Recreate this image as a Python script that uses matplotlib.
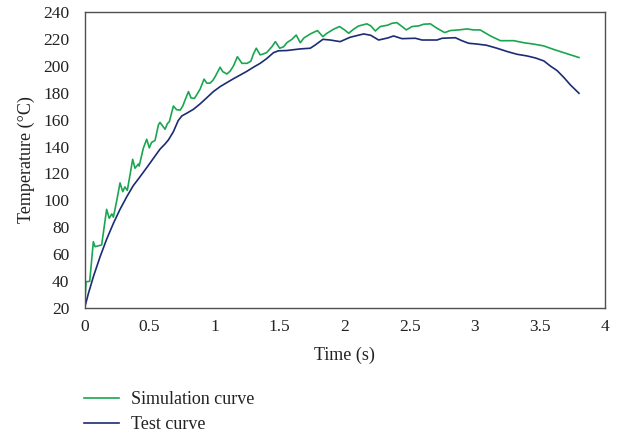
import matplotlib
matplotlib.use("Agg")
import matplotlib.pyplot as plt

# Simulation curve (time s, temperature °C)
sim_t = [0.0, 0.012, 0.04, 0.068, 0.081, 0.132, 0.17, 0.19, 0.21, 0.222, 0.248, 0.273, 0.294,
         0.31, 0.329, 0.35, 0.37, 0.388, 0.414, 0.42, 0.452, 0.478, 0.498, 0.515, 0.542, 0.568,
         0.58, 0.619, 0.637, 0.652, 0.683, 0.708, 0.735, 0.755, 0.773, 0.799, 0.819, 0.845,
         0.86, 0.888, 0.919, 0.94, 0.965, 0.986, 1.004, 1.042, 1.063, 1.094, 1.12, 1.145, 1.175,
         1.21, 1.25, 1.278, 1.30, 1.32, 1.35, 1.37, 1.40, 1.44, 1.467, 1.50, 1.53, 1.555, 1.594,
         1.627, 1.658, 1.686, 1.735, 1.79, 1.832, 1.86, 1.914, 1.96, 2.0, 2.03, 2.068, 2.106,
         2.17, 2.2, 2.235, 2.273, 2.33, 2.363, 2.40, 2.44, 2.473, 2.517, 2.57, 2.606, 2.658,
         2.709, 2.768, 2.81, 2.876, 2.94, 2.99, 3.04, 3.12, 3.196, 3.3, 3.375, 3.45, 3.53,
         3.606, 3.683, 3.8]
sim_T = [20, 39.7, 40, 69.4, 65.7, 67, 93.4, 86.8, 90, 87.6, 100, 113, 106.5,
         110, 107.5, 119, 130.5, 123.9, 127, 125.5, 138.7, 145.4, 139, 143, 144.5, 156,
         157.9, 152.8, 157, 158.4, 170, 167.3, 167, 170, 174.5, 180.7, 176, 175.7,
         178, 182.5, 190, 187, 187, 189, 191.8, 198.8, 195.5, 193.8, 196, 199.8, 206.6,
         201.7, 201.7, 203.3, 209, 212.9, 208, 208.5, 209.7, 214, 217.8, 212.9, 214, 217, 219.5,
         222.7, 217, 220.5, 223.5, 226, 221.5, 223.8, 227, 229, 226.4, 224, 227, 229.4,
         231, 229.5, 225.7, 229, 230, 231.4, 231.9, 229, 226.5, 229, 229.5, 230.7, 231,
         227.7, 224.5, 226, 226.5, 227.2, 226.5, 226.5, 222, 218.5, 218.5, 217, 216, 214.6,
         212, 209.6, 206]

# Test curve (time s, temperature °C)
test_t = [0.0, 0.03, 0.068, 0.12, 0.17, 0.222, 0.273, 0.325, 0.375, 0.427, 0.478, 0.53, 0.58,
          0.619, 0.645, 0.683, 0.72, 0.748, 0.786, 0.837, 0.888, 0.94, 0.99, 1.042, 1.094,
          1.145, 1.196, 1.248, 1.298, 1.35, 1.40, 1.452, 1.49, 1.555, 1.658, 1.735, 1.773,
          1.832, 1.888, 1.965, 2.04, 2.145, 2.2, 2.26, 2.33, 2.375, 2.44, 2.542, 2.594, 2.709,
          2.748, 2.85, 2.9, 2.952, 3.017, 3.09, 3.17, 3.25, 3.325, 3.40, 3.465, 3.53, 3.58,
          3.632, 3.683, 3.735, 3.8]
test_T = [20, 31, 43.4, 58.3, 71.2, 83, 93.4, 102.8, 111, 117.6, 124.3, 131.3, 138,
          141.9, 144.9, 151, 159.2, 162.7, 164.7, 167.6, 171.6, 176.2, 180.7, 184.4, 187.4,
          190.3, 193, 195.8, 198.8, 201.7, 205.2, 209.6, 211, 211.2, 212.4, 212.9, 215.3,
          219.5, 219, 217.8, 221, 223.5, 222.5, 219, 220.5, 222, 220, 220.3, 219, 219,
          220.3, 220.7, 218.5, 216.6, 216, 215.1, 212.9, 210.4, 208.4, 207.2, 205.7, 203.5, 199.7,
          196.3, 191.3, 185.6, 179.5]

x_ticks = [0, 0.5, 1, 1.5, 2, 2.5, 3, 3.5, 4]
x_tick_labels = ["0", "0.5", "1", "1.5", "2", "2.5", "3", "3.5", "4"]
y_ticks = list(range(20, 241, 20))

plt.rcParams['font.family'] = ['Liberation Serif', 'DejaVu Serif']

fig = plt.figure(figsize=(6.19, 4.34), dpi=100)
ax = fig.add_axes([84.5 / 619, 1 - 308.3 / 434, (605 - 84.5) / 619, (308.3 - 11.7) / 434])

ax.plot(sim_t, sim_T, color='#1aa650', lw=1.2, label='Simulation curve')
ax.plot(test_t, test_T, color='#1c2c74', lw=1.2, label='Test curve')

ax.set_xlim(0, 4)
ax.set_ylim(20, 240)
ax.set_xticks(x_ticks)
ax.set_xticklabels(x_tick_labels)
ax.set_yticks(y_ticks)
ax.tick_params(length=0, labelsize=12.5, pad=8, colors='#222222')
ax.tick_params(axis='y', pad=11)
for s in ax.spines.values():
    s.set_color('#505050')
    s.set_linewidth(1.0)

ax.set_xlabel('Time (s)', fontsize=13, color='#222222', labelpad=8)
ax.set_ylabel('Temperature (°C)', fontsize=13, color='#222222', labelpad=6)

fig.legend(loc='upper left', bbox_to_anchor=(68 / 619, 1 - 375 / 434), frameon=False,
           fontsize=13, handlelength=1.9, handletextpad=0.7, labelspacing=0.45,
           labelcolor='#222222')

fig.savefig('out.png', dpi=100)
